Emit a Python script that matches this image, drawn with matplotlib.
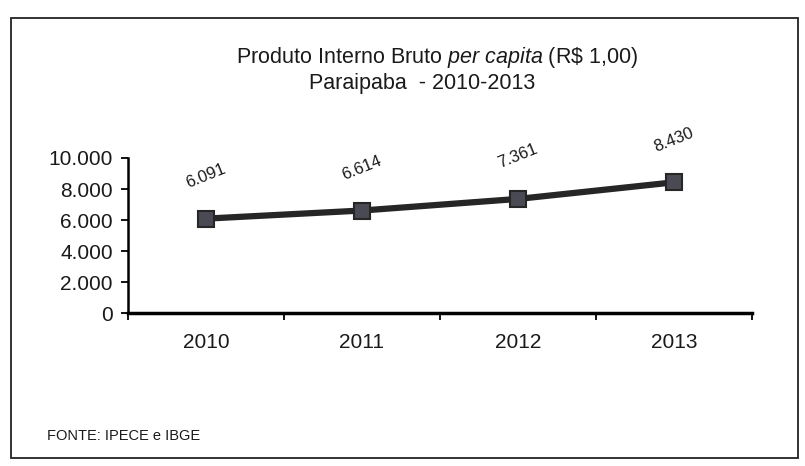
import matplotlib
matplotlib.use('Agg')
import matplotlib.pyplot as plt
from matplotlib.patches import Rectangle
from matplotlib.ticker import FuncFormatter, FixedLocator

plt.rcParams['font.family'] = ['Liberation Sans', 'DejaVu Sans']
plt.rcParams['mathtext.fontset'] = 'custom'
plt.rcParams['mathtext.it'] = 'Liberation Sans:italic'
plt.rcParams['mathtext.rm'] = 'Liberation Sans'

anos = ['2010', '2011', '2012', '2013']
pib_per_capita = [6091, 6614, 7361, 8430]
rotulos = ['6.091', '6.614', '7.361', '8.430']

fig = plt.figure(figsize=(8.05, 4.66), dpi=100)

# moldura externa
fig.patches.append(Rectangle((0.014, 0.017), 0.977, 0.944, transform=fig.transFigure,
                             fill=False, edgecolor='#222222', linewidth=1.3))

ax = fig.add_axes([0.159, 0.328, 0.775, 0.333])
x = range(len(anos))
ax.plot(x, pib_per_capita, color='#262626', linewidth=4.5, marker='s',
        markersize=12, markerfacecolor='#4a4a55', markeredgecolor='#262626',
        markeredgewidth=1.5, zorder=3)

for i, (v, r) in enumerate(zip(pib_per_capita, rotulos)):
    ax.annotate(r, (i, v), xytext=(0, 20), textcoords='offset points',
                ha='center', va='bottom', rotation=22, fontsize=12, color='#1a1a1a')

ax.set_xlim(-0.5, 3.5)
ax.set_ylim(0, 10000)
ax.set_yticks([0, 2000, 4000, 6000, 8000, 10000])
ax.yaxis.set_major_formatter(FuncFormatter(lambda v, p: f'{int(v):,}'.replace(',', '.')))
ax.set_xticks(list(x))
ax.set_xticklabels(anos)
ax.xaxis.set_minor_locator(FixedLocator([-0.5, 0.5, 1.5, 2.5, 3.5]))
ax.tick_params(axis='x', which='major', length=0, pad=14, labelsize=15, labelcolor='#1a1a1a')
ax.tick_params(axis='x', which='minor', length=5, width=1.3, direction='out')
ax.tick_params(axis='y', length=5, width=1.3, direction='out', labelsize=15, pad=6,
               labelcolor='#1a1a1a')

for s in ['top', 'right']:
    ax.spines[s].set_visible(False)
ax.spines['left'].set_linewidth(1.8)
ax.spines['bottom'].set_linewidth(2.5)

fig.text(0.543, 0.864, 'Produto Interno Bruto $\\it{per\\ capita}$ (R\\$ 1,00)',
         ha='center', fontsize=15.5, color='#1a1a1a')
fig.text(0.524, 0.810, 'Paraipaba  - 2010-2013', ha='center', fontsize=15.5, color='#1a1a1a')
fig.text(0.058, 0.055, 'FONTE: IPECE e IBGE', fontsize=10.5, color='#1a1a1a')

fig.savefig('out.png', dpi=100)
